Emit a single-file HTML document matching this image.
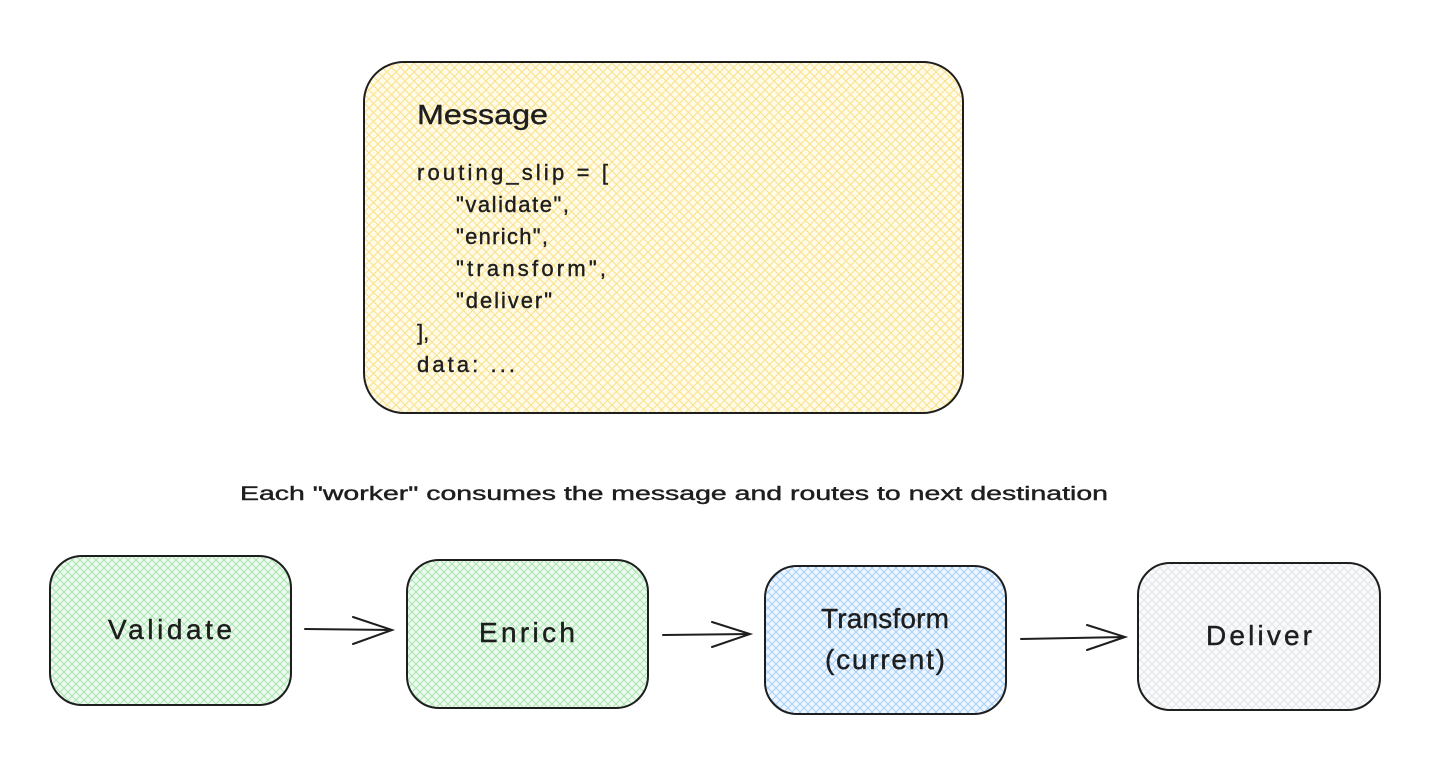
<!DOCTYPE html>
<html><head><meta charset="utf-8"><style>
html,body{margin:0;padding:0;background:#fff;}
svg{display:block}
text{font-family:"Liberation Sans",sans-serif;fill:#1e1e1e;stroke:#1e1e1e;stroke-width:0.4}
</style></head><body>
<svg width="1436" height="764" viewBox="0 0 1436 764" xmlns="http://www.w3.org/2000/svg">
<defs>
<pattern id="py" width="9" height="9" patternUnits="userSpaceOnUse"><rect width="9" height="9" fill="#fffbe8"/><path d="M0 0L9 9M9 0L0 9" stroke="#f9e08a" stroke-width="1"/></pattern>
<pattern id="pg" width="8" height="8" patternUnits="userSpaceOnUse"><rect width="8" height="8" fill="#eefaef"/><path d="M0 0L8 8M8 0L0 8" stroke="#a9e4b0" stroke-width="1"/></pattern>
<pattern id="pb" width="8" height="8" patternUnits="userSpaceOnUse"><rect width="8" height="8" fill="#eef6ff"/><path d="M0 0L8 8M8 0L0 8" stroke="#a5cff8" stroke-width="1"/></pattern>
<pattern id="pw" width="8" height="8" patternUnits="userSpaceOnUse"><rect width="8" height="8" fill="#fafbfc"/><path d="M0 0L8 8M8 0L0 8" stroke="#e2e5e9" stroke-width="1"/></pattern>
</defs>
<g stroke="#1e1e1e" stroke-width="2">
<rect x="364" y="62" width="599" height="351" rx="40" fill="url(#py)"/>
<rect x="50" y="556" width="241" height="149" rx="32" fill="url(#pg)"/>
<rect x="407" y="560" width="241" height="148" rx="32" fill="url(#pg)"/>
<rect x="765" y="566" width="241" height="148" rx="32" fill="url(#pb)"/>
<rect x="1138" y="563" width="242" height="147" rx="32" fill="url(#pw)"/>
<g fill="none" stroke-linecap="round">
<path d="M305 629L392 630M353 617L392 630L353 644"/>
<path d="M663 635L750 634M712 622L750 634L712 647"/>
<path d="M1021 639L1125 637M1087 625L1125 637L1087 650"/>
</g>
</g>
<text x="417" y="124" font-size="28" textLength="131" lengthAdjust="spacingAndGlyphs">Message</text>
<g font-size="22" lengthAdjust="spacingAndGlyphs">
<text x="417" y="180" textLength="191">routing_slip = [</text>
<text x="456" y="212" textLength="113">"validate",</text>
<text x="456" y="244" textLength="92">"enrich",</text>
<text x="456" y="276" textLength="150">"transform",</text>
<text x="456" y="308" textLength="96">"deliver"</text>
<text x="417" y="340">],</text>
<text x="417" y="372" textLength="98">data: ...</text>
</g>
<text x="240" y="500" font-size="19" textLength="868" lengthAdjust="spacingAndGlyphs">Each "worker" consumes the message and routes to next destination</text>
<g font-size="28" text-anchor="middle" lengthAdjust="spacingAndGlyphs">
<text x="170" y="639" textLength="124">Validate</text>
<text x="527" y="642" textLength="96">Enrich</text>
<text x="885" y="628" textLength="128">Transform</text>
<text x="885" y="669" textLength="120">(current)</text>
<text x="1259" y="645" textLength="106">Deliver</text>
</g>
</svg>
</body></html>
